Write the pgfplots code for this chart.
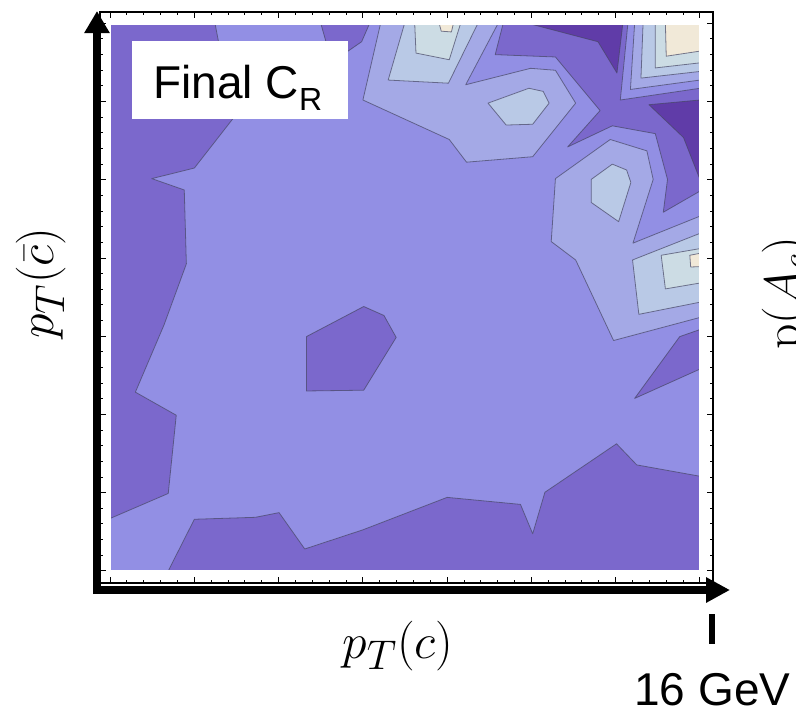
\documentclass[border=0pt]{standalone}
\usepackage{pgfplots}
\pgfplotsset{compat=1.18}
\usepackage[no-math]{fontspec}
\setmainfont{Liberation Sans}
\usetikzlibrary{arrows.meta}
\definecolor{cA}{RGB}{96,60,168}
\definecolor{cB}{RGB}{123,104,204}
\definecolor{cC}{RGB}{146,143,228}
\definecolor{cD}{RGB}{164,169,230}
\definecolor{cE}{RGB}{185,201,230}
\definecolor{cF}{RGB}{204,220,228}
\definecolor{cG}{RGB}{241,233,216}
\definecolor{cline}{RGB}{70,70,100}
\pgfplotsset{lev/.style={fill=#1, draw=cline, draw opacity=0.7, line width=0.4pt, line join=round}}
\begin{document}
\begin{tikzpicture}
\begin{axis}[
  at={(0,0)}, anchor=south west,
  scale only axis, width=306.5pt, height=285.5pt,
  xmin=1.76, xmax=16.31, ymin=1.69, ymax=16.29,
  xtick={2,4,...,16}, ytick={2,4,...,16},
  minor x tick num=4, minor y tick num=4,
  xticklabels={}, yticklabels={},
  tick pos=both, tick align=inside,
  major tick length=3pt, minor tick length=1.6pt,
  every tick/.style={black, line width=0.5pt},
  axis line style={black, line width=0.6pt},
  clip=false,
]
% background level
\addplot[fill=cB, draw=none] coordinates {(2,2) (16,2) (16,16) (2,16)} -- cycle;
% main level
\addplot[lev=cC] coordinates {(4.49,16) (4.92,13.57) (4.00,12.30) (2.99,12.03) (3.76,11.74) (3.81,9.85) (3.28,8.29) (2.60,6.57) (3.57,5.98) (3.38,3.98) (2,3.34) (2,2) (3.38,2) (4.00,3.32) (5.45,3.37) (6.01,3.49) (6.62,2.56) (8.00,3.05) (10.00,3.88) (11.74,3.70) (12.03,2.95) (12.32,4.01) (14.02,5.25) (14.50,4.71) (16,4.42) (16,16)} -- cycle;
% darker islands
\addplot[lev=cB] coordinates {(7.00,16) (8.16,16) (7.97,15.53) (7.58,15.24) (7.15,15.43)} -- cycle;
\addplot[lev=cB] coordinates {(6.66,7.99) (8.02,8.76) (8.50,8.53) (8.79,7.97) (8.02,6.62) (6.66,6.60)} -- cycle;
\addplot[lev=cB] coordinates {(14.45,6.41) (16,7.16) (16,8.17) (15.52,7.99)} -- cycle;
\addplot[lev=cB] coordinates {(11.33,16) (16,16) (16,11.71) (15.13,11.17) (15.23,12.01) (14.94,13.18) (13.92,13.38) (12.86,12.84) (13.63,13.77) (12.57,15.14) (11.14,15.20)} -- cycle;
% darkest
\addplot[lev=cA] coordinates {(11.92,16) (14.17,16) (14.03,14.73) (13.58,15.53)} -- cycle;
\addplot[lev=cA] coordinates {(14.79,13.92) (16,14.04) (16,12.01) (15.61,13.08)} -- cycle;
% top-right corner stack
\addplot[lev=cC] coordinates {(14.29,16) (14.11,14.04) (16,14.34) (16,16)} -- cycle;
\addplot[lev=cD] coordinates {(14.45,16) (14.35,14.31) (16,14.55) (16,16)} -- cycle;
\addplot[lev=cE] coordinates {(14.65,16) (14.60,14.60) (16,14.77) (16,16)} -- cycle;
\addplot[lev=cF] coordinates {(14.94,16) (14.94,14.86) (16,14.99) (16,16)} -- cycle;
\addplot[lev=cG] coordinates {(15.18,16) (15.20,15.16) (16,15.29) (16,16)} -- cycle;
% upper middle lobe
\addplot[lev=cD] coordinates {(8.42,16) (8.00,14.04) (10.05,13.03) (10.46,12.45) (12.03,12.59) (13.05,13.96) (12.57,14.80) (11.98,14.85) (10.44,14.43) (11.21,16)} -- cycle;
\addplot[lev=cE] coordinates {(8.99,16) (8.60,14.55) (10.03,14.47) (10.73,16)} -- cycle;
\addplot[lev=cF] coordinates {(9.23,16) (9.26,15.24) (10.05,15.07) (10.32,16)} -- cycle;
\addplot[lev=cG] coordinates {(9.81,16) (9.86,15.80) (10.10,15.78) (10.15,16)} -- cycle;
\addplot[lev=cE] coordinates {(10.97,13.96) (11.94,14.34) (12.28,14.26) (12.42,13.96) (12.03,13.42) (11.40,13.40)} -- cycle;
% right lobe
\addplot[lev=cD] coordinates {(12.57,12.03) (13.87,13.03) (14.74,12.74) (14.89,12.01) (14.41,10.38) (16,11.07) (16,8.48) (13.95,7.89) (13.05,9.95) (12.47,10.42)} -- cycle;
\addplot[lev=cE] coordinates {(13.42,12.01) (13.92,12.40) (14.26,12.25) (14.36,11.93) (14.07,10.93) (13.42,11.42)} -- cycle;
\addplot[lev=cE] coordinates {(14.40,9.95) (16,10.63) (16,8.87) (14.55,8.56)} -- cycle;
\addplot[lev=cF] coordinates {(15.08,10.07) (16,10.24) (16,9.36) (15.18,9.21)} -- cycle;
\addplot[lev=cG] coordinates {(15.76,10.07) (16,10.12) (16,9.78) (15.78,9.77)} -- cycle;
\draw[white, line width=1.2pt] (axis cs:2,2) rectangle (axis cs:16,16);
\end{axis}
\begin{scope}[x=0.5pt, y=-0.5pt, shift={(-50pt,291.5pt)}]
  \fill[white] (132,41) rectangle (348,119);
  \node[anchor=base west, inner sep=0pt] at (153,98) {\fontsize{23}{23}\selectfont Final C\raisebox{-6pt}{\fontsize{16}{16}\selectfont R}};
  \draw[line width=4pt, -{Triangle[length=11pt,width=12pt]}] (97,594) -- (97,11);
  \draw[line width=4pt, -{Triangle[length=12pt,width=12pt]}] (93,590) -- (730,590);
  \draw[line width=3pt] (712,614) -- (712,644);
  \node[anchor=base west, inner sep=0pt] at (634,705) {\fontsize{23}{23}\selectfont 16 GeV};
  \node[anchor=base, inner sep=0pt] at (398,658) {\fontsize{29}{29}\selectfont $p_T(c)$};
  \node[anchor=base, inner sep=0pt, rotate=90] at (53,283) {\fontsize{29}{29}\selectfont $p_T(\bar{c})$};
  \node[anchor=base, inner sep=0pt, rotate=90] at (799,293) {\fontsize{27}{27}\selectfont $\mathrm{p}(A_c)$};
  \pgfresetboundingbox
  \path[use as bounding box] (0,0) rectangle (796,709);
\end{scope}
\end{tikzpicture}
\end{document}
